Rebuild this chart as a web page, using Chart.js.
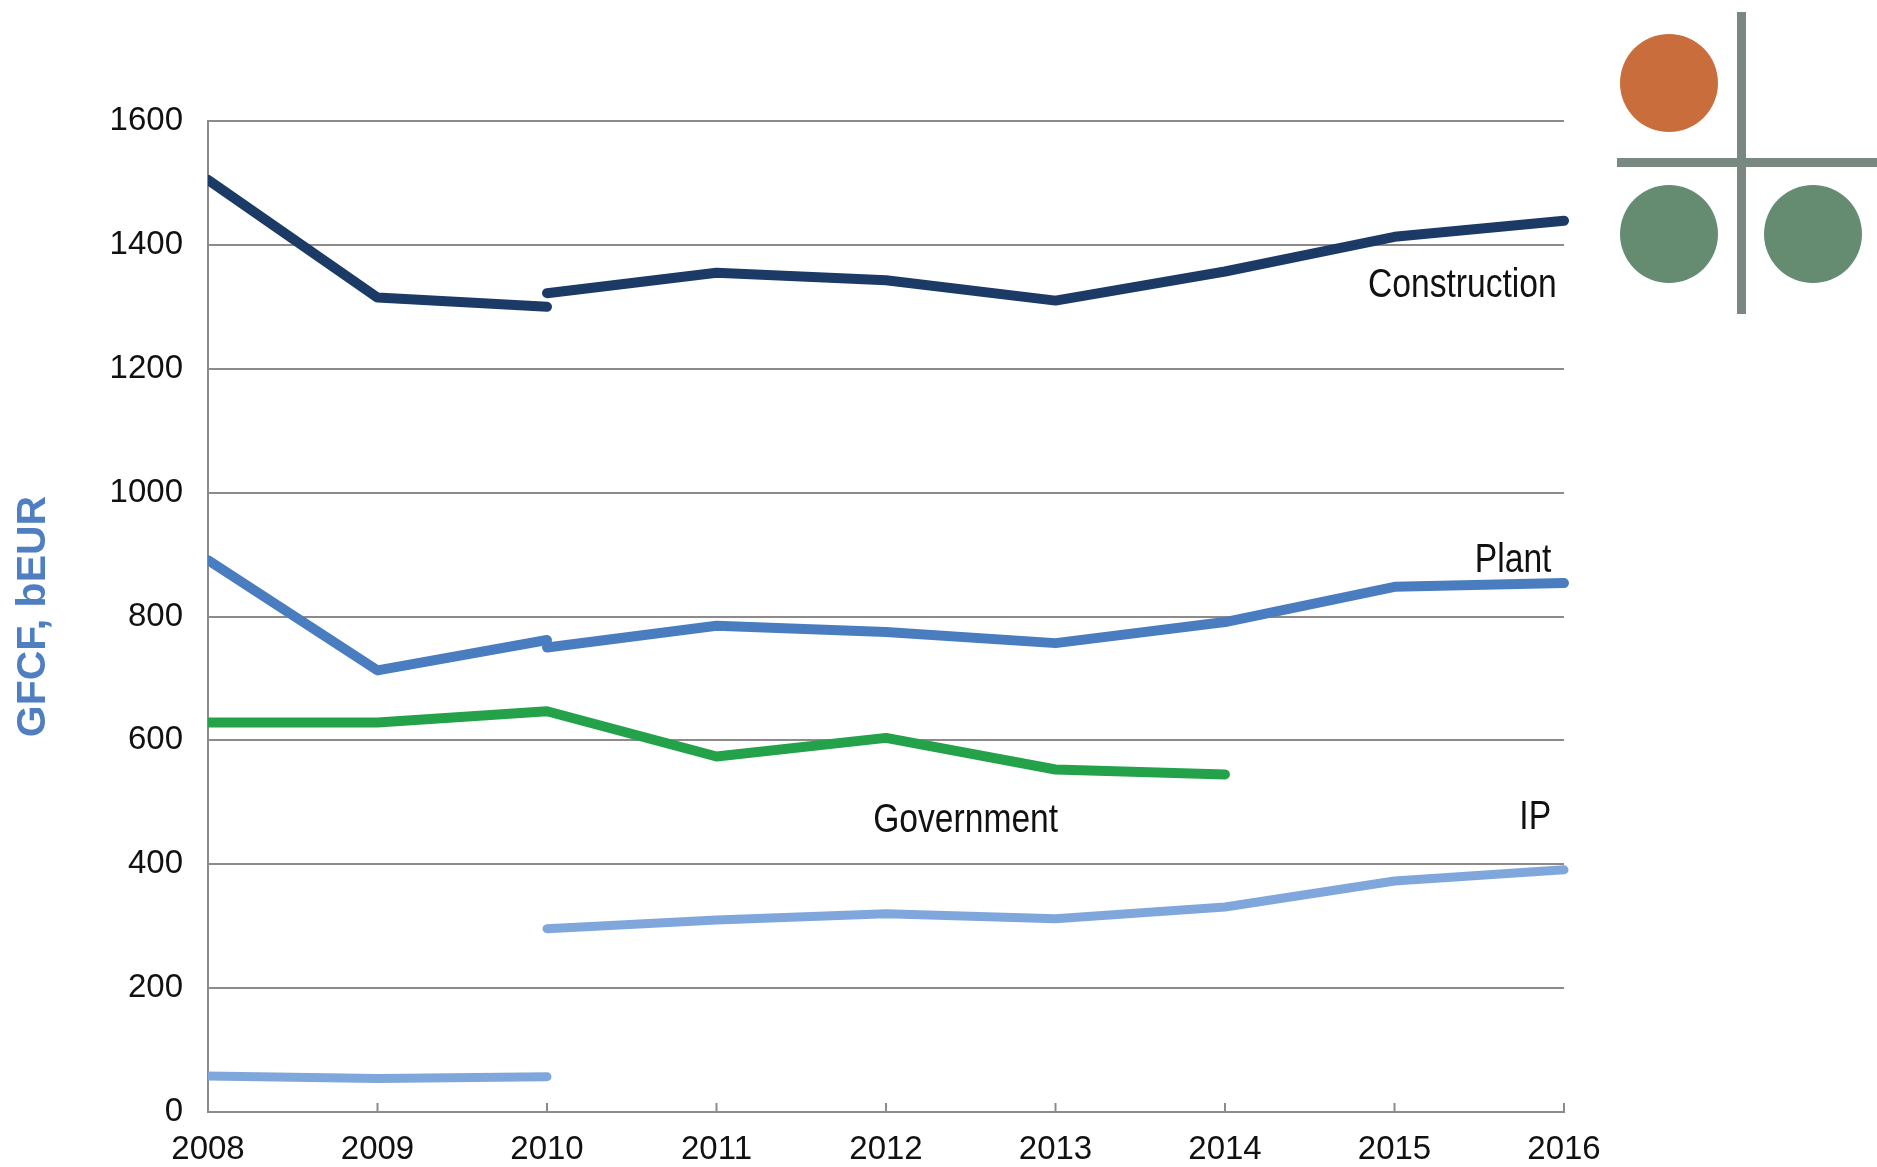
<!DOCTYPE html>
<html>
<head>
<meta charset="utf-8">
<script src="https://cdn.jsdelivr.net/npm/chart.js@4/dist/chart.umd.min.js"></script>
<style>
  html, body { margin: 0; padding: 0; background: #ffffff; }
  #wrap { position: relative; width: 1877px; height: 1167px; overflow: hidden; }
  #c { position: absolute; left: 0; top: 0; }
  .bar { position: absolute; background: #7a8882; }
  .dot { position: absolute; border-radius: 50%; }
</style>
</head>
<body>
<div id="wrap">
  <canvas id="c" width="1877" height="1167"></canvas>
  <div class="bar" style="left:1737px; top:12px; width:9px; height:302px;"></div>
  <div class="bar" style="left:1617px; top:158px; width:260px; height:9px;"></div>
  <div class="dot" style="left:1620px; top:34px; width:98px; height:98px; background:#c96d3c;"></div>
  <div class="dot" style="left:1620px; top:185px; width:98px; height:98px; background:#658c70;"></div>
  <div class="dot" style="left:1764px; top:185px; width:98px; height:98px; background:#658c70;"></div>
</div>
<script>
// ---- data ----
const years = ['2008', '2009', '2010', '2011', '2012', '2013', '2014', '2015', '2016'];
const construction_a = [1505, 1315, 1300, null, null, null, null, null, null];
const construction_b = [null, null, 1322, 1355, 1343, 1310, 1357, 1413, 1439];
const plant_a = [891, 713, 762, null, null, null, null, null, null];
const plant_b = [null, null, 750, 785, 775, 757, 791, 848, 854];
const government = [629, 629, 647, 574, 604, 553, 545, null, null];
const ip_a = [58, 54, 57, null, null, null, null, null, null];
const ip_b = [null, null, 296, 310, 320, 312, 331, 373, 391];
const yTicks = [0, 200, 400, 600, 800, 1000, 1200, 1400, 1600];
const seriesLabels = ['Construction', 'Plant', 'Government', 'IP'];
// label anchors in data units (category index, value)
const labelAnchorX = [7.40, 7.70, 4.47, 7.83];
const labelAnchorY = [1334, 890, 470, 475];

const C_CON = '#1b3a66';
const C_PLANT = '#4a7dc0';
const C_GOV = '#23a24a';
const C_IP = '#7fa7dc';
const GRID = '#8f8a8a';

function ds(label, data, color, width) {
  return {
    label: label, data: data, borderColor: color, backgroundColor: color,
    borderWidth: width, pointRadius: 0, pointHoverRadius: 0, tension: 0,
    spanGaps: false, borderCapStyle: 'round', borderJoinStyle: 'round', fill: false,
    clip: { left: 0, right: 5, top: 10, bottom: 10 }
  };
}

const innerTicks = {
  id: 'innerTicks',
  afterDraw(chart) {
    const x = chart.scales.x, ctx = chart.ctx, bottom = chart.chartArea.bottom;
    ctx.save();
    ctx.strokeStyle = GRID;
    ctx.lineWidth = 2;
    for (let i = 1; i < years.length; i++) {
      const px = x.getPixelForTick(i);
      ctx.beginPath();
      ctx.moveTo(px, bottom);
      ctx.lineTo(px, bottom - 9);
      ctx.stroke();
    }
    ctx.restore();
  }
};

const seriesText = {
  id: 'seriesText',
  afterDatasetsDraw(chart) {
    const ctx = chart.ctx, xs = chart.scales.x, ys = chart.scales.y;
    ctx.save();
    ctx.fillStyle = '#111111';
    ctx.font = '40px "Liberation Sans", Arial, sans-serif';
    ctx.textAlign = 'center';
    ctx.textBaseline = 'middle';
    for (let i = 0; i < seriesLabels.length; i++) {
      const px = xs.getPixelForValue(labelAnchorX[i]);
      const py = ys.getPixelForValue(labelAnchorY[i]);
      ctx.save();
      ctx.translate(px, py);
      ctx.scale(0.84, 1);
      ctx.fillText(seriesLabels[i], 0, 0);
      ctx.restore();
    }
    ctx.restore();
  }
};

new Chart(document.getElementById('c'), {
  type: 'line',
  data: {
    labels: years,
    datasets: [
      ds('Construction', construction_a, C_CON, 10),
      ds('Construction ', construction_b, C_CON, 10),
      ds('Plant', plant_a, C_PLANT, 10),
      ds('Plant ', plant_b, C_PLANT, 10),
      ds('Government', government, C_GOV, 10),
      ds('IP', ip_a, C_IP, 9),
      ds('IP ', ip_b, C_IP, 9)
    ]
  },
  options: {
    responsive: false,
    animation: false,
    events: [],
    layout: { padding: { left: 0, right: 313, top: 121, bottom: 0 } },
    plugins: { legend: { display: false }, tooltip: { enabled: false }, title: { display: false } },
    scales: {
      x: {
        type: 'category',
        offset: false,
        grid: { display: true, color: 'rgba(0,0,0,0)', drawTicks: false },
        border: { display: true, color: GRID, width: 2 },
        ticks: {
          color: '#111111', padding: 18, maxRotation: 0, autoSkip: false,
          font: { family: '"Liberation Sans", Arial, sans-serif', size: 33 }
        },
        afterFit(scale) { scale.height = 1167 - 1112; }
      },
      y: {
        min: 0, max: 1600,
        afterBuildTicks(scale) { scale.ticks = yTicks.map(v => ({ value: v })); },
        grid: { color: GRID, lineWidth: 2, drawTicks: false },
        border: { display: true, color: GRID, width: 2 },
        ticks: {
          color: '#111111', padding: 25,
          font: { family: '"Liberation Sans", Arial, sans-serif', size: 33 },
          callback: (v) => String(v)
        },
        title: {
          display: true, text: 'GFCF, bEUR', color: '#4f7fc0',
          font: { family: '"Liberation Sans", Arial, sans-serif', size: 41, weight: 'bold' },
          padding: { top: 9, bottom: 0 }
        },
        afterFit(scale) { scale.width = 208; }
      }
    }
  },
  plugins: [innerTicks, seriesText]
});
</script>
</body>
</html>
